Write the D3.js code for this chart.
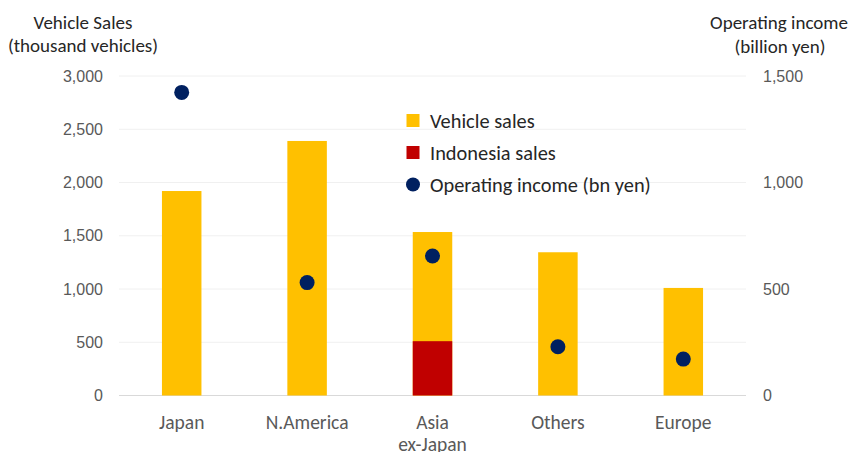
<!DOCTYPE html>
<html>
<head>
<meta charset="utf-8">
<script src="https://cdn.jsdelivr.net/npm/d3@7"></script>
<style>
  html, body { margin: 0; padding: 0; background: #fff; }
  svg { display: block; font-family: Carlito, Lato, "Open Sans", sans-serif; }
</style>
</head>
<body>
<svg id="chart" width="852" height="452"></svg>
<script>
// Regional breakdown: vehicle sales (left axis) and operating income (right axis)
const regions = ["Japan", "N.America", "Asia\nex-Japan", "Others", "Europe"];
const vehicleSales = [1920, 2390, 1535, 1345, 1010];      // thousand vehicles
const indonesiaSales = [null, null, 510, null, null];     // thousand vehicles
const operatingIncome = [1423, 530, 655, 229, 171];       // billion yen
const leftTicks = [0, 500, 1000, 1500, 2000, 2500, 3000];
const rightTicks = [0, 500, 1000, 1500];

const svg = d3.select("#chart");
const margin = { left: 119, right: 106, top: 76, bottom: 56.5 };
const W = 852, H = 452;

const x = d3.scaleBand()
  .domain(regions)
  .range([margin.left, W - margin.right])
  .paddingInner(0.685)
  .paddingOuter(0.3425);

const yL = d3.scaleLinear().domain([0, 3000]).range([H - margin.bottom, margin.top]);
const yR = d3.scaleLinear().domain([0, 1500]).range([H - margin.bottom, margin.top]);

const textGray = "#595959";
const titleColor = "#262626";

// gridlines
svg.append("g")
  .selectAll("line")
  .data(leftTicks)
  .join("line")
  .attr("x1", margin.left).attr("x2", W - margin.right)
  .attr("y1", d => yL(d)).attr("y2", d => yL(d))
  .attr("stroke", d => d === 0 ? "#d9d9d9" : "#f0f0f0")
  .attr("stroke-width", 1);

// left axis
const leftAxis = svg.append("g")
  .attr("transform", `translate(${margin.left},0)`)
  .call(d3.axisLeft(yL).tickValues(leftTicks).tickFormat(d3.format(",")).tickSize(0).tickPadding(16));
leftAxis.select(".domain").remove();
leftAxis.selectAll("text").attr("fill", textGray).attr("font-size", 16).attr("font-family", null);

// right axis
const rightAxis = svg.append("g")
  .attr("transform", `translate(${W - margin.right},0)`)
  .call(d3.axisRight(yR).tickValues(rightTicks).tickFormat(d3.format(",")).tickSize(0).tickPadding(17));
rightAxis.select(".domain").remove();
rightAxis.selectAll("text").attr("fill", textGray).attr("font-size", 16).attr("font-family", null);

// category labels, one text per line
const xLabels = svg.append("g");
regions.forEach(r => {
  const cx = x(r) + x.bandwidth() / 2;
  r.split("\n").forEach((line, i) => {
    xLabels.append("text")
      .attr("x", cx)
      .attr("y", 429 + i * 22)
      .attr("text-anchor", "middle")
      .attr("fill", textGray)
      .attr("font-size", 19.5)
      .text(line);
  });
});

// vehicle sales bars
svg.append("g")
  .selectAll("rect")
  .data(regions.map((r, i) => ({ r, v: vehicleSales[i] })))
  .join("rect")
  .attr("x", d => x(d.r))
  .attr("width", x.bandwidth())
  .attr("y", d => yL(d.v))
  .attr("height", d => yL(0) - yL(d.v))
  .attr("fill", "#FFC000");

// Indonesia portion
svg.append("g")
  .selectAll("rect")
  .data(regions.map((r, i) => ({ r, v: indonesiaSales[i] })).filter(d => d.v != null))
  .join("rect")
  .attr("x", d => x(d.r))
  .attr("width", x.bandwidth())
  .attr("y", d => yL(d.v))
  .attr("height", d => yL(0) - yL(d.v))
  .attr("fill", "#C00000");

// operating income dots
svg.append("g")
  .selectAll("circle")
  .data(regions.map((r, i) => ({ r, v: operatingIncome[i] })))
  .join("circle")
  .attr("cx", d => x(d.r) + x.bandwidth() / 2)
  .attr("cy", d => yR(d.v))
  .attr("r", 7.5)
  .attr("fill", "#002060");

// axis titles
const lt = svg.append("text").attr("text-anchor", "middle").attr("fill", titleColor).attr("font-size", 19);
lt.append("tspan").attr("x", 83).attr("y", 29).text("Vehicle Sales");
lt.append("tspan").attr("x", 83).attr("y", 52).text("(thousand vehicles)");
const rt = svg.append("text").attr("text-anchor", "middle").attr("fill", titleColor).attr("font-size", 19);
rt.append("tspan").attr("x", 779).attr("y", 29).text("Operating income");
rt.append("tspan").attr("x", 780).attr("y", 53).text("(billion yen)");

// legend
const legendItems = [
  { label: "Vehicle sales", type: "rect", color: "#FFC000" },
  { label: "Indonesia sales", type: "rect", color: "#C00000" },
  { label: "Operating income (bn yen)", type: "circle", color: "#002060" }
];
const legend = svg.append("g").attr("transform", "translate(413,120.5)");
legendItems.forEach((d, i) => {
  const g = legend.append("g").attr("transform", `translate(0,${i * 32})`);
  if (d.type === "rect") {
    g.append("rect").attr("x", -6.5).attr("y", -6.5).attr("width", 13).attr("height", 13).attr("fill", d.color);
  } else {
    g.append("circle").attr("r", 7).attr("fill", d.color);
  }
  g.append("text").attr("x", 17).attr("y", 7).attr("fill", titleColor).attr("font-size", 20.4).text(d.label);
});
</script>
</body>
</html>
